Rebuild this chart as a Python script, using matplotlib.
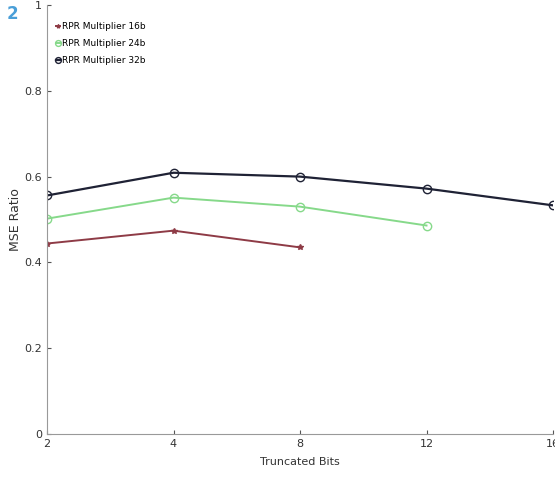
from matplotlib import pyplot as plt
from matplotlib.ticker import FuncFormatter

# truncated bits are drawn as evenly spaced categories
bits_labels = ['2', '4', '8', '12', '16']
bits_pos = [0, 1, 2, 3, 4]

mse_16b = [0.444, 0.474, 0.435]
mse_24b = [0.502, 0.551, 0.530, 0.486]
mse_32b = [0.556, 0.609, 0.600, 0.572, 0.533]

fig = plt.figure(figsize=(5.55, 4.9), dpi=100)
ax = fig.add_axes([47 / 555, 56 / 490, 506 / 555, 429 / 490])

ax.plot(bits_pos[:3], mse_16b, color='#8e3b46', marker='*', markersize=4,
        linewidth=1.4, label='RPR Multiplier 16b')
ax.plot(bits_pos[:4], mse_24b, color='#86d98a', marker='o', markersize=6,
        markerfacecolor='none', linewidth=1.4, label='RPR Multiplier 24b')
ax.plot(bits_pos, mse_32b, color='#1f2235', marker='o', markersize=6,
        markerfacecolor='none', linewidth=1.6, label='RPR Multiplier 32b')

ax.set_xlim(0, 4)
ax.set_ylim(0, 1)
ax.set_xticks(bits_pos)
ax.set_xticklabels(bits_labels)
ax.set_yticks([0, 0.2, 0.4, 0.6, 0.8, 1.0])
ax.yaxis.set_major_formatter(FuncFormatter(lambda v, p: '%g' % v))
ax.tick_params(direction='in', length=3, labelsize=8, colors='#555555', labelcolor='#333333')
for s in ['top', 'right']:
    ax.spines[s].set_visible(False)
for s in ['left', 'bottom']:
    ax.spines[s].set_color('#999999')

ax.set_xlabel('Truncated Bits', fontsize=8, color='#333333', labelpad=6)
ax.set_ylabel('MSE Ratio', fontsize=9, color='#333333', labelpad=2)

ax.legend(loc='upper left', frameon=False, fontsize=6.5, handlelength=0.5,
          handletextpad=0.2, labelspacing=0.9, borderaxespad=0.3, markerscale=0.7,
          bbox_to_anchor=(0.005, 0.975))

fig.text(12 / 555, 1 - 14 / 490, '2', fontsize=12, color='#4a9fd8',
         fontweight='bold', va='center', ha='center')

plt.savefig('out.png', dpi=100)
plt.close()
